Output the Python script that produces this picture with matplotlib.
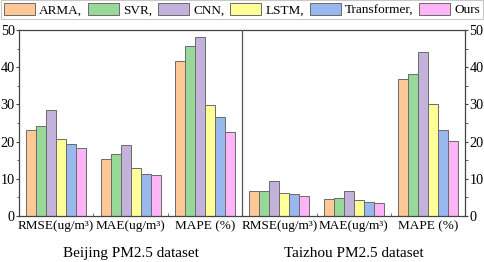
import matplotlib
matplotlib.use("Agg")
import matplotlib.pyplot as plt
import numpy as np
from matplotlib.ticker import MultipleLocator, FixedLocator
import matplotlib.transforms as mtransforms

plt.rcParams['font.family'] = ['Liberation Serif', 'DejaVu Serif']

models = ["ARMA,", "SVR,", "CNN,", "LSTM,", "Transformer,", "Ours"]
metrics = ["RMSE(ug/m³)", "MAE(ug/m³)", "MAPE (%)"]
datasets = ["Beijing PM2.5 dataset", "Taizhou PM2.5 dataset"]

beijing_rmse = [23.2, 24.1, 28.4, 20.6, 19.4, 18.3]
beijing_mae = [15.2, 16.6, 19.0, 12.8, 11.4, 10.9]
beijing_mape = [41.6, 45.6, 48.2, 29.9, 26.7, 22.7]
taizhou_rmse = [6.6, 6.6, 9.4, 6.1, 6.0, 5.5]
taizhou_mae = [4.6, 4.8, 6.6, 4.3, 3.8, 3.4]
taizhou_mape = [36.9, 38.3, 44.2, 30.0, 23.1, 20.1]

colors = ["#FFC896", "#98D898", "#C2B2DC", "#FFFF98", "#98B8EE", "#FFB4F8"]

groups = [beijing_rmse, beijing_mae, beijing_mape, taizhou_rmse, taizhou_mae, taizhou_mape]
data = np.array(groups)  # shape (6 groups, 6 models)

fig = plt.figure(figsize=(4.84, 2.62), dpi=100)
ax = fig.add_axes([0.0393, 0.1756, 0.922, 0.71])

x = np.arange(len(groups))
w = 0.1345
for i, m in enumerate(models):
    ax.bar(x + (i - 2.5) * w, data[:, i], width=w, color=colors[i],
           edgecolor="#6a6a6a", linewidth=0.7, label=m, zorder=2)

ax.set_xlim(-0.5, 5.5)
ax.set_ylim(0, 50)
ax.axvline(2.5, color="#555555", linewidth=0.9, zorder=3)

ax.set_xticks(x)
ax.set_xticklabels(metrics * 2, fontsize=9.5)
# small horizontal nudges so neighbouring labels keep a gap, as in the original
shifts_px = [-3, 3, 2, 1, 4, 4]
for lab, dx in zip(ax.get_xticklabels(), shifts_px):
    lab.set_transform(lab.get_transform() +
                      mtransforms.ScaledTranslation(dx / 100, 0, fig.dpi_scale_trans))
ax.xaxis.set_minor_locator(FixedLocator([0.5, 1.5, 3.5, 4.5]))
ax.tick_params(axis='x', which='major', length=0, pad=3)
ax.tick_params(axis='x', which='minor', direction='in', length=2, color="#555555")

ax.yaxis.set_major_locator(MultipleLocator(10))
ax.yaxis.set_minor_locator(MultipleLocator(5))
ax.tick_params(axis='y', which='both', left=True, right=True, labelleft=True,
               labelright=True, labelsize=10.3, direction='out', color="#444444", pad=0.6)
ax.tick_params(axis='y', which='major', length=2.5)
ax.tick_params(axis='y', which='minor', length=1.8)

for s in ax.spines.values():
    s.set_color("#444444")
    s.set_linewidth(0.9)

for k, name in enumerate(datasets):
    ax.text(1 + 3 * k, -0.2, name, transform=ax.get_xaxis_transform(),
            ha='center', va='center', fontsize=11)

leg = fig.legend(loc='upper left', bbox_to_anchor=(0.003, 0.0, 0.994, 1.0), mode='expand',
                 ncol=6, fontsize=9.5, frameon=True, fancybox=False, edgecolor="#bbbbbb",
                 handlelength=2.35, handleheight=1.1, handletextpad=0.3,
                 columnspacing=0.4, borderpad=0.2, borderaxespad=0.0)
leg.get_frame().set_linewidth(0.8)
for h in leg.legend_handles:
    h.set_edgecolor("#6a6a6a")

fig.savefig("out.png", dpi=100)
